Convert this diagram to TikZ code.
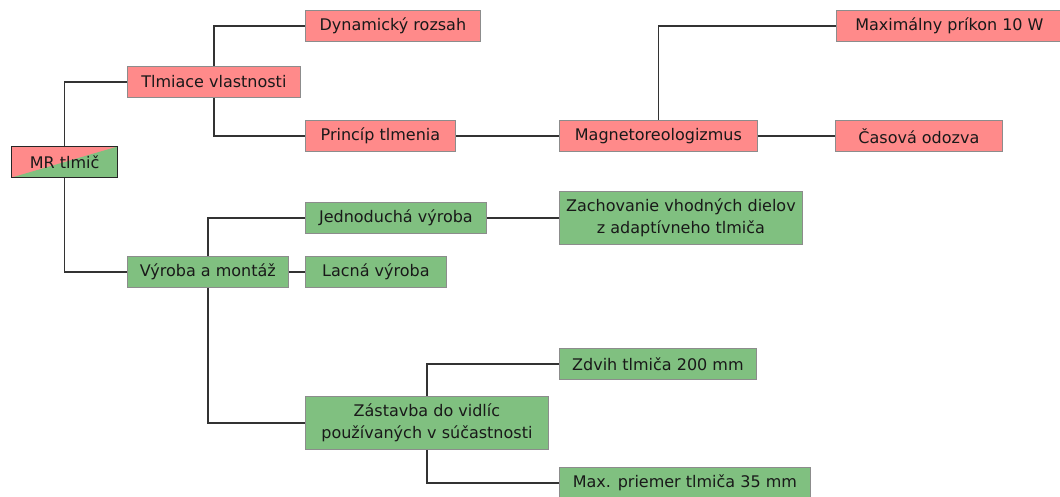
\documentclass[tikz,border=0pt]{standalone}
\usepackage{fontspec}
\setmainfont{DejaVu Sans}
\usepackage{tikz}
\usetikzlibrary{positioning, calc}

\definecolor{boxred}{RGB}{255,138,138}
\definecolor{boxgreen}{RGB}{128,192,128}
\definecolor{boxline}{RGB}{140,140,140}
\definecolor{linkline}{RGB}{51,51,51}

\begin{document}
\begin{tikzpicture}[x=1pt, y=-1pt,
  font=\fontsize{16}{22}\selectfont,
  box/.style={draw=boxline, line width=0.8pt, anchor=west, minimum height=31pt,
    inner xsep=4pt, inner ysep=7.5pt, align=center, text=black!90},
  redbox/.style={box, fill=boxred},
  greenbox/.style={box, fill=boxgreen},
  link/.style={draw=linkline, line width=1.5pt}]
\useasboundingbox (0,0) rectangle (1060,497);

% Root node
\node (mr) [box, draw=black!85, line width=1.4pt, minimum width=106pt,
  path picture={
    \fill[boxred] (path picture bounding box.south west) rectangle (path picture bounding box.north east);
    \fill[boxgreen] (path picture bounding box.south west) -- (path picture bounding box.south east)
      -- (path picture bounding box.north east) -- cycle;}] at (11,162) {MR tlmič};

% First level
\node (tlm) [redbox, minimum width=173pt] at (127,82) {Tlmiace vlastnosti};
\node (vyr) [greenbox, minimum width=161pt] at (127,272) {Výroba a montáž};

% Damping branch
\node (dyn) [redbox, minimum width=175pt] at (305,26) {Dynamický rozsah};
\node (pri) [redbox, minimum width=150pt] at (305,136) {Princíp tlmenia};
\node (mag) [redbox, minimum width=198pt] at (559,136) {Magnetoreologizmus};
\node (max) [redbox, minimum width=226pt] at (836,26) {Maximálny príkon 10 W};
\node (cas) [redbox, minimum width=167pt] at (835,136) {Časová odozva};

% Production branch
\node (jed) [greenbox, minimum width=181pt] at (305,218) {Jednoduchá výroba};
\node (zach) [greenbox, minimum width=243pt] at (559,218) {Zachovanie vhodných dielov\\z adaptívneho tlmiča};
\node (lac) [greenbox, minimum width=141pt] at (305,272) {Lacná výroba};
\node (zas) [greenbox, minimum width=243pt] at (305,423) {Zástavba do vidlíc\\používaných v súčastnosti};
\node (zdv) [greenbox, minimum width=197pt] at (559,364) {Zdvih tlmiča 200 mm};
\node (mpr) [greenbox, minimum width=251pt] at (559,483) {Max. priemer tlmiča 35 mm};

% Connectors
\draw[link] (mr.north) |- (tlm.west);
\draw[link] (mr.south) |- (vyr.west);
\draw[link] (tlm.north) |- (dyn.west);
\draw[link] (tlm.south) |- (pri.west);
\draw[link] (pri) -- (mag);
\draw[link] (mag.north) |- (max.west);
\draw[link] (mag) -- (cas);
\draw[link] (vyr.north) |- (jed.west);
\draw[link] (vyr) -- (lac);
\draw[link] (vyr.south) |- (zas.west);
\draw[link] (jed) -- (zach);
\draw[link] (zas.north) |- (zdv.west);
\draw[link] (zas.south) |- (mpr.west);
\end{tikzpicture}
\end{document}
